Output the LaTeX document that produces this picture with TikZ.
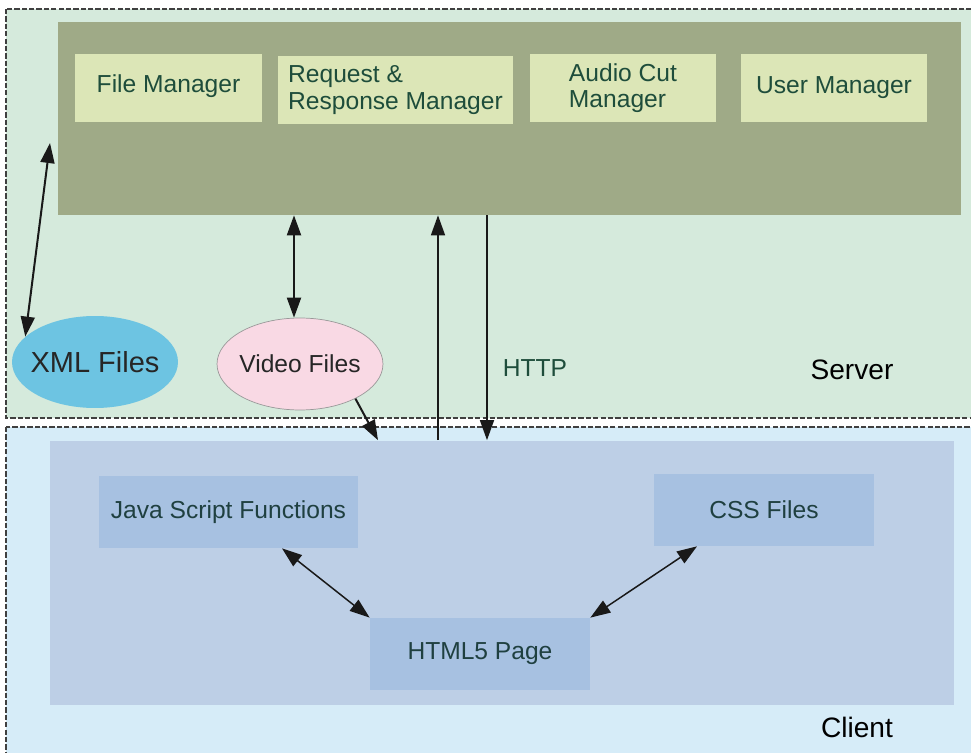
\documentclass[tikz,border=0pt]{standalone}
\usepackage{fontspec}
\setmainfont{Liberation Sans}
\usepackage{xcolor}
\definecolor{colorServerBg}{HTML}{D5EADC}
\definecolor{colorClientBg}{HTML}{D6ECF8}
\definecolor{colorServer}{HTML}{9FAA87}
\definecolor{colorManager}{HTML}{DCE6B7}
\definecolor{colorMgrText}{HTML}{1E4D3B}
\definecolor{colorClient}{HTML}{BDCFE6}
\definecolor{colorClientItem}{HTML}{A7C1E1}
\definecolor{colorClientText}{HTML}{1F4040}
\definecolor{colorXml}{HTML}{6DC4E2}
\definecolor{colorVideo}{HTML}{F9D9E4}
\usetikzlibrary{arrows.meta, shapes.geometric, positioning}
\tikzset{
  mgr/.style={rectangle, fill=colorManager, text=colorMgrText, minimum height=1.36cm, align=left, font=\fontsize{14}{15}\selectfont},
  cliItem/.style={rectangle, fill=colorClientItem, text=colorClientText, minimum height=1.44cm, font=\fontsize{14}{15}\selectfont},
  store/.style={ellipse, minimum width=3.32cm, minimum height=1.84cm, inner xsep=-0.15cm, text=black!85},
  region/.style={draw=black!75, dash pattern=on 3pt off 1.2pt, line width=0.6pt},
  link/.style={line width=0.04cm, black!90},
}

\begin{document}
\begin{tikzpicture}[x=0.02cm, y=-0.02cm, >={Triangle[length=0.4cm, width=0.28cm]}, every node/.style={inner sep=0pt}]
\useasboundingbox (0,0) rectangle (971,753);
\draw[region, fill=colorServerBg] (6,9) rectangle (980,418);
\draw[region, fill=colorClientBg] (6,427) rectangle (980,765);
\node[rectangle, fill=colorServer, minimum width=18.06cm, minimum height=3.86cm] (srv) at (509.5,118.5) {};
\node[mgr, minimum width=3.74cm] (mgrFile) at (168.5,88) {\raisebox{0.16cm}{File Manager}};
\node[mgr, minimum width=4.7cm] (mgrReq) at (395.5,90) {Request \&\\Response Manager};
\node[mgr, minimum width=3.72cm] (mgrAudio) at (623,88) {Audio Cut\\Manager};
\node[mgr, minimum width=3.72cm] (mgrUser) at (834,88) {User Manager};
\node[store, fill=colorXml, font=\fontsize{16.5}{18}\selectfont] (xmlFiles) at (95,362) {XML Files};
\node[store, fill=colorVideo, draw=black!40, thin, font=\fontsize{14}{15}\selectfont] (videoFiles) at (300,364) {Video Files};
\node[text=colorMgrText, font=\fontsize{14}{15}\selectfont] (httpLbl) at (535,368) {HTTP};
\node[font=\fontsize{16}{18}\selectfont] (srvLbl) at (852,370) {Server};
\node[rectangle, fill=colorClient, minimum width=18.08cm, minimum height=5.3cm] (cli) at (502,573) {};
\node[cliItem, minimum width=5.18cm] (jsFn) at (228.5,512) {Java Script Functions};
\node[cliItem, minimum width=4.4cm] (cssFiles) at (764,510) {CSS Files};
\node[cliItem, minimum width=4.4cm] (htmlPage) at (480,654) {HTML5 Page};
\node[font=\fontsize{16}{18}\selectfont] (cliLbl) at (857,727) {Client};
\coordinate (xmlTip) at (50,143);
\coordinate (vidLane) at (294,0);
\coordinate (reqLane) at (438,0);
\coordinate (resLane) at (487,0);
\coordinate (vidIn) at (378,0);
\draw[<->, link] (xmlFiles.160) -- (xmlTip);
\draw[<->, link] (srv.south -| vidLane) -- (videoFiles.north -| vidLane);
\draw[->, link, line width=0.03cm] (cli.north -| reqLane) -- (srv.south -| reqLane);
\draw[->, link, line width=0.03cm] (srv.south -| resLane) -- (cli.north -| resLane);
\draw[->, link] (videoFiles.-32) -- (cli.north -| vidIn);
\draw[<->, link, line width=0.03cm] ([xshift=1.07cm]jsFn.south) -- (htmlPage.north west);
\draw[<->, link, line width=0.03cm] ([xshift=-1.34cm]cssFiles.south) -- (htmlPage.north east);
\end{tikzpicture}
\end{document}
